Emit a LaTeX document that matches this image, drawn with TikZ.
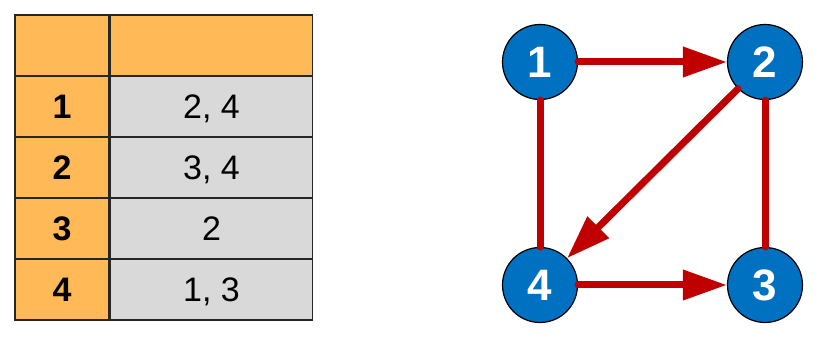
\documentclass[tikz,border=0pt]{standalone}
\usepackage{fontspec}
\setmainfont{Liberation Sans}
\usetikzlibrary{arrows.meta, positioning}
\definecolor{Head}{HTML}{FFBA57}
\definecolor{Cell}{HTML}{D9D9D9}
\definecolor{Grid}{HTML}{262626}
\definecolor{Vertex}{HTML}{0070C0}
\definecolor{Edge}{HTML}{C00000}

\begin{document}
\begin{tikzpicture}[
  x=1pt, y=-1pt,
  keycell/.style={
    rectangle,
    draw=Grid,
    line width=1.5pt,
    fill=Head,
    minimum width=94pt,
    minimum height=61pt,
    inner sep=0pt,
    text depth=0pt,
    font=\fontsize{34}{36}\selectfont\bfseries
  },
  listcell/.style={
    keycell,
    fill=Cell,
    minimum width=202pt,
    font=\fontsize{34}{36}\selectfont
  },
  vertex/.style={
    circle,
    draw=black,
    line width=1.2pt,
    fill=Vertex,
    minimum size=75pt,
    inner sep=0pt,
    text=white,
    font=\fontsize{44}{46}\selectfont\bfseries
  },
  link/.style={
    line width=7pt,
    draw=Edge,
    line cap=round
  },
  arc/.style={
    link,
    -{Triangle[length=44pt,width=29pt]}
  }
]

\useasboundingbox (0,0) rectangle (831,339);

% adjacency list
\node[keycell] (h0) at (62,45.5) {};
\node[listcell, fill=Head, right=0pt of h0] (h1) {};
\foreach \i/\adj in {1/{2, 4},2/{3, 4},3/{2},4/{1, 3}}{
  \node[keycell] (k\i) at (62,{45.5+61*\i}) {\i};
  \node[listcell, right=0pt of k\i] (l\i) {\adj};
}

% graph
\node[vertex] (v1) at (540,62) {1};
\node[vertex] (v2) at (765,62) {2};
\node[vertex] (v3) at (765,285) {3};
\node[vertex] (v4) at (540,285) {4};

\draw[arc] (v1) -- (v2);
\draw[arc] (v2) -- (v4);
\draw[arc] (v4) -- (v3);
\draw[link] (v1) -- (v4);
\draw[link] (v2) -- (v3);

\end{tikzpicture}
\end{document}
